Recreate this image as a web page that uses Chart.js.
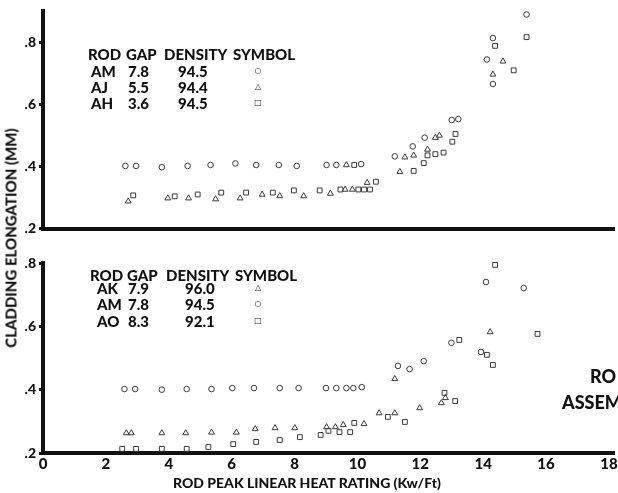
<!DOCTYPE html>
<html>
<head>
<meta charset="utf-8">
<script src="https://cdn.jsdelivr.net/npm/chart.js@4.4.1/dist/chart.umd.min.js"></script>
<style>
  body { margin: 0; width: 618px; height: 493px; overflow: hidden; background: #fff; position: relative; }
  canvas { position: absolute; left: 0; }
  #topChart { top: 0; }
  #bottomChart { top: 240px; }
  .txt { position: absolute; font-family: Lato, 'DejaVu Sans', sans-serif; font-weight: 900; color: #111; white-space: nowrap; line-height: 1; transform: translateY(-50%); }
  .sym { font-family: 'DejaVu Sans', sans-serif; font-weight: normal; font-size: 8px; transform: translate(-50%, -50%); }
</style>
</head>
<body>
<canvas id="topChart" width="618" height="240"></canvas>
<canvas id="bottomChart" width="618" height="253"></canvas>
<script>
//////////////////////
// data
//////////////////////

const xTicks = [0, 2, 4, 6, 8, 10, 12, 14, 16, 18];
const yTicks = [0.2, 0.4, 0.6, 0.8];

// upper panel
const topRods = ['AM', 'AJ', 'AH'];
const topGaps = ['7.8', '5.5', '3.6'];
const topDensities = ['94.5', '94.4', '94.5'];
const topSymbols = ['circle', 'triangle', 'rect'];

const amTopX = [2.62, 2.96, 3.78, 4.60, 5.33, 6.12, 6.78, 7.50, 8.07, 9.02, 9.33, 10.12, 11.19, 11.76, 12.14, 13.00, 13.21, 14.12, 14.31, 14.31, 15.38];
const amTopY = [0.402, 0.402, 0.398, 0.402, 0.405, 0.410, 0.405, 0.405, 0.402, 0.405, 0.405, 0.408, 0.433, 0.465, 0.493, 0.550, 0.553, 0.745, 0.814, 0.666, 0.890];

const ajX = [2.71, 3.97, 4.63, 5.49, 6.27, 6.97, 7.53, 8.29, 9.14, 9.61, 9.65, 9.84, 10.31, 11.35, 11.51, 11.79, 12.23, 12.48, 12.61, 14.31, 14.63];
const ajY = [0.288, 0.298, 0.298, 0.295, 0.298, 0.310, 0.305, 0.305, 0.313, 0.326, 0.405, 0.326, 0.348, 0.383, 0.430, 0.436, 0.455, 0.493, 0.500, 0.697, 0.739];

const ahX = [2.87, 4.19, 4.92, 5.67, 6.46, 7.31, 7.98, 8.80, 9.46, 9.90, 10.03, 10.21, 10.40, 10.59, 11.79, 12.11, 12.23, 12.48, 12.74, 13.02, 13.12, 14.38, 14.97, 15.38];
const ahY = [0.307, 0.304, 0.310, 0.316, 0.316, 0.316, 0.323, 0.323, 0.326, 0.405, 0.326, 0.326, 0.326, 0.351, 0.386, 0.411, 0.436, 0.440, 0.445, 0.480, 0.505, 0.789, 0.710, 0.817];

// lower panel
const botRods = ['AK', 'AM', 'AO'];
const botGaps = ['7.9', '7.8', '8.3'];
const botDensities = ['96.0', '94.5', '92.1'];
const botSymbols = ['triangle', 'circle', 'rect'];

const akX = [2.65, 2.81, 3.78, 4.54, 5.36, 6.15, 6.75, 7.38, 8.01, 9.02, 9.30, 9.55, 10.21, 10.69, 11.19, 11.19, 11.98, 12.67, 12.80, 14.22];
const akY = [0.263, 0.263, 0.263, 0.263, 0.265, 0.265, 0.276, 0.279, 0.279, 0.282, 0.282, 0.289, 0.292, 0.326, 0.326, 0.434, 0.342, 0.358, 0.374, 0.582];

const amBotX = [2.59, 2.93, 3.78, 4.57, 5.36, 6.02, 6.71, 7.53, 8.13, 9.00, 9.33, 9.65, 9.87, 10.14, 11.29, 11.66, 12.11, 12.99, 13.93, 14.09, 15.29];
const amBotY = [0.402, 0.402, 0.400, 0.402, 0.402, 0.405, 0.405, 0.405, 0.405, 0.405, 0.405, 0.405, 0.405, 0.408, 0.475, 0.465, 0.490, 0.548, 0.519, 0.740, 0.721];

const aoX = [2.52, 2.96, 3.78, 4.57, 5.26, 6.05, 6.78, 7.53, 8.17, 8.83, 9.08, 9.43, 9.77, 9.90, 10.97, 11.51, 12.77, 13.11, 13.24, 14.12, 14.31, 14.38, 15.73];
const aoY = [0.213, 0.213, 0.213, 0.213, 0.219, 0.228, 0.235, 0.241, 0.250, 0.257, 0.270, 0.266, 0.266, 0.295, 0.314, 0.298, 0.390, 0.364, 0.557, 0.510, 0.478, 0.794, 0.576];

//////////////////////
// helpers
//////////////////////

const ink = '#111';
const dotInk = '#3a3a3a';
const symbolChars = { circle: '\u25CB', triangle: '\u25B3', rect: '\u25A1' };

function toPoints(xs, ys) {
  return xs.map((x, i) => ({ x: x, y: ys[i] }));
}

function series(label, xs, ys, style) {
  return {
    label: label,
    data: toPoints(xs, ys),
    pointStyle: style,
    pointRadius: style === 'circle' ? 2.8 : 3.4,
    pointBorderWidth: 1,
    pointBorderColor: dotInk,
    pointBackgroundColor: 'rgba(255,255,255,0)',
    clip: false
  };
}

function makePanel(canvasId, datasets, yMax, padTop, xHeight, showXLabels) {
  return new Chart(document.getElementById(canvasId), {
    type: 'scatter',
    data: { datasets: datasets },
    options: {
      responsive: false,
      animation: false,
      events: [],
      layout: { padding: { top: padTop, right: 0, bottom: 0, left: 0 } },
      plugins: { legend: { display: false }, tooltip: { enabled: false } },
      scales: {
        x: {
          type: 'linear',
          min: 0,
          max: 18.13,
          afterBuildTicks: s => { s.ticks = xTicks.map(v => ({ value: v })); },
          afterFit: s => { s.height = xHeight; },
          border: { display: true, width: 4, color: ink },
          grid: { display: showXLabels, drawOnChartArea: false, tickLength: 2, lineWidth: 3, color: ink },
          ticks: {
            display: showXLabels,
            padding: 0,
            color: ink,
            font: { family: 'Lato', weight: '900', size: 15 },
            maxRotation: 0
          }
        },
        y: {
          type: 'linear',
          min: 0.2,
          max: yMax,
          afterBuildTicks: s => { s.ticks = yTicks.map(v => ({ value: v })); },
          afterFit: s => { s.width = 43; },
          border: { display: true, width: 4, color: ink },
          grid: { drawOnChartArea: false, tickLength: 4, lineWidth: 3, color: ink },
          ticks: {
            padding: 3,
            color: ink,
            font: { family: 'Lato', weight: '900', size: 14 },
            callback: v => '.' + Math.round(v * 10)
          }
        }
      }
    }
  });
}

function addText(text, x, y, size, cls) {
  const div = document.createElement('div');
  div.className = 'txt' + (cls ? ' ' + cls : '');
  div.textContent = text;
  div.style.left = x + 'px';
  div.style.top = y + 'px';
  if (size) div.style.fontSize = size + 'px';
  document.body.appendChild(div);
  return div;
}

function addTable(top, rods, gaps, densities, symbols, cols) {
  const heads = ['ROD', 'GAP', 'DENSITY', 'SYMBOL'];
  for (let i = 0; i < heads.length; i++) {
    addText(heads[i], cols.head[i], top.head, 15);
  }
  for (let r = 0; r < rods.length; r++) {
    const y = top.rows[r];
    addText(rods[r], cols.rod, y, 15);
    addText(gaps[r], cols.gap, y, 15);
    addText(densities[r], cols.density, y, 15);
    addText(symbolChars[symbols[r]], cols.symbol, y, null, 'sym');
  }
}

//////////////////////
// draw
//////////////////////

makePanel('topChart', [
  series('AM', amTopX, amTopY, 'circle'),
  series('AJ', ajX, ajY, 'triangle'),
  series('AH', ahX, ahY, 'rect')
], 0.9, 8, 10, false);

makePanel('bottomChart', [
  series('AK', akX, akY, 'triangle'),
  series('AM', amBotX, amBotY, 'circle'),
  series('AO', aoX, aoY, 'rect')
], 0.8, 23, 40, true);

addTable({ head: 54, rows: [71, 87, 103] }, topRods, topGaps, topDensities, topSymbols,
  { head: [88, 126, 164, 233], rod: 91, gap: 128, density: 178, symbol: 258 });
addTable({ head: 275, rows: [288, 304, 321] }, botRods, botGaps, botDensities, botSymbols,
  { head: [90, 127, 166, 235], rod: 97, gap: 128, density: 185, symbol: 258 });

addText('ROD PEAK LINEAR HEAT RATING (Kw/Ft)', 173, 483, 14);
const yTitle = addText('CLADDING ELONGATION (MM)', 11, 238, 15);
yTitle.style.transform = 'translate(-50%, -50%) rotate(-90deg)';
addText('RO', 590, 376, 18);
addText('ASSEM', 562, 402, 18);
</script>
</body>
</html>
